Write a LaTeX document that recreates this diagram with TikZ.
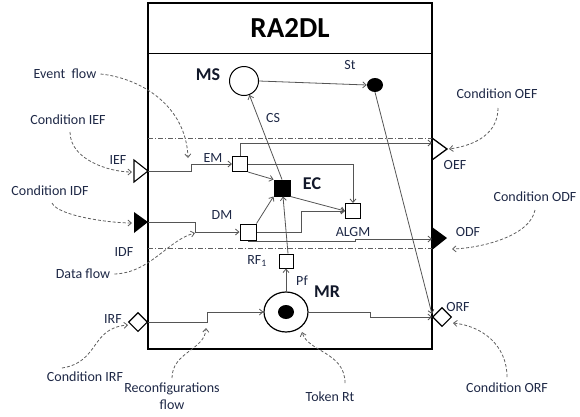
\documentclass[tikz,border=0pt]{standalone}
\usepackage{fontspec}
\setmainfont{Carlito}
\usetikzlibrary{arrows.meta,shapes.geometric}
\definecolor{lblcol}{RGB}{30,40,70}
\definecolor{conncol}{RGB}{85,85,85}
\definecolor{dashcol}{RGB}{95,95,95}
\tikzset{
  conn/.style={draw=conncol, line width=0.8pt, -{Straight Barb[length=3.5pt,width=6pt]}},
  annot/.style={draw=dashcol, line width=0.8pt, dash pattern=on 3pt off 2pt, -{Straight Barb[length=3.5pt,width=6pt]}},
  dashdot/.style={draw=dashcol, line width=0.6pt, dash pattern=on 5pt off 2pt on 1pt off 2pt},
  lbl/.style={text=lblcol, font=\fontsize{14}{16}\selectfont, inner sep=0pt},
  blbl/.style={text=lblcol!60!black, font=\bfseries\fontsize{18}{20}\selectfont, inner sep=0pt},
  sbox/.style={draw=black, fill=white, line width=1pt, minimum size=15pt, inner sep=0pt, rectangle},
}
\begin{document}
\begin{tikzpicture}[x=1pt,y=-1pt]
\useasboundingbox (0,0) rectangle (580,416);
% frame
\draw[line width=1.6pt] (148,3) rectangle (432,349);
\draw[line width=0.9pt] (148,53) -- (432,53);
\node[font=\bfseries\fontsize{29}{32}\selectfont, inner sep=0pt] (title) at (290,28) {RA2DL};
% dash-dot separators
\draw[dashdot] (148,138) -- (432,138);
\draw[dashdot] (148,248) -- (432,248);

% main nodes
\node[circle, draw, line width=1pt, minimum size=29pt, inner sep=0pt] (ms) at (244,81) {};
\node[ellipse, fill=black, minimum width=16pt, minimum height=14pt, inner sep=0pt] (st) at (375,85) {};
\node[sbox] (em) at (240,164) {};
\node[sbox, fill=black, minimum size=16pt] (ec) at (282,188) {};
\node[sbox] (alg) at (353,211) {};
\node[sbox, minimum size=16pt] (dm) at (248,232) {};
\node[sbox, minimum size=14pt] (rf) at (286,261) {};
\node[ellipse, draw, line width=1.2pt, minimum width=44pt, minimum height=40pt, inner sep=0pt] (mr) at (286,312) {};
\node[ellipse, fill=black, minimum width=16pt, minimum height=14pt, inner sep=0pt] (token) at (286,312) {};

% ports
\draw[line width=1.1pt, fill=white] (134,160) -- (148,171) -- (134,182) -- cycle;
\fill (134,212) -- (148,222) -- (134,233) -- cycle;
\draw[line width=1.3pt] (432,138) -- (447,149) -- (432,160);
\fill (432,227) -- (447,238) -- (432,250) -- cycle;
\node[diamond, draw, fill=white, line width=1.1pt, minimum size=19pt, inner sep=0pt] (irf) at (138,322) {};
\node[diamond, draw, fill=white, line width=1.1pt, minimum size=19pt, inner sep=0pt] (orf) at (442,317) {};
\coordinate (ief) at (148,171);
\coordinate (idf) at (148,222);
\coordinate (oef) at (432,143);
\coordinate (odf) at (432,239);

% connectors
\draw[conn] (ief) -- (191,171) -- (191,164) -- (em.west);
\draw[conn] (idf) -- (195,222) -- (195,232) -- (dm.west);
\draw[conn] (em.north) -- (240,143) -- (oef);
\draw[conn] (em.east) -- (alg.north |- em.east) -- (alg.north);
\draw[conn] (em.south east) -- (ec.north west);
\draw[conn] (dm.north east) -- (ec.south west);
\draw[conn] (dm.east) -- (301,232) -- (301,211) -- (alg.west);
\draw[conn] (dm.south) -- (248,241) -- (355,241) -- (355,239) -- (odf);
\draw[conn] (ec.south east) -- (alg.west);
\draw[conn] (ec.north) -- (ms);
\draw[conn] ([xshift=2pt]rf.north) -- ([xshift=1pt]ec.south);
\draw[conn] (mr.north) -- (rf.south);
\draw[conn] (ms.east) -- (st.west);
\draw[conn] (st.south) -- ([yshift=3pt]orf.west);
\draw[conn] (irf.east) -- (207,322) -- (207,312) -- (mr.west);
\draw[conn] (mr.east) -- (370,312) -- (370,317) -- (orf.west);

% labels inside
\node[blbl] (msl) at (208,75) {MS};
\node[lbl] (stl) at (350,65) {St};
\node[lbl] (csl) at (273,118) {CS};
\node[lbl] (eml) at (213,158) {EM};
\node[blbl] (ecl) at (312,184) {EC};
\node[lbl] (dml) at (222,215) {DM};
\node[lbl] (algl) at (353,232) {ALGM};
\node[lbl] (rfl) at (257,261) {RF\textsubscript{1}};
\node[lbl] (pfl) at (302,281) {Pf};
\node[blbl] (mrl) at (327,292) {MR};

% port labels
\node[lbl] (iefl) at (118,160) {IEF};
\node[lbl] (idfl) at (124,252) {IDF};
\node[lbl] (irfl) at (113,319) {IRF};
\node[lbl] (oefl) at (455,165) {OEF};
\node[lbl] (odfl) at (468,232) {ODF};
\node[lbl] (orfl) at (458,307) {ORF};

% annotation labels
\node[lbl] (evf) at (65,74) {Event\ \ flow};
\node[lbl] (cief) at (68,120) {Condition IEF};
\node[lbl] (cidf) at (50,191) {Condition IDF};
\node[lbl] (daf) at (83,274) {Data flow};
\node[lbl] (cirf) at (85,377) {Condition IRF};
\node[lbl, align=center, font=\fontsize{14}{17}\selectfont] (rcf) at (172,396) {Reconfigurations\\flow};
\node[lbl] (tokl) at (330,397) {Token Rt};
\node[lbl] (corf) at (507,388) {Condition ORF};
\node[lbl] (codf) at (535,197) {Condition ODF};
\node[lbl] (coef) at (497,94) {Condition OEF};

% annotation arrows
\coordinate (a1) at (188,158);
\coordinate (a2) at (132,172);
\coordinate (a3) at (132,223);
\coordinate (a4) at (195,233);
\coordinate (a5) at (128,325);
\coordinate (a6) at (206,328);
\coordinate (a7) at (302,332);
\coordinate (a8) at (449,149);
\coordinate (a9) at (452,249);
\coordinate (a10) at (453,323);
\draw[annot] (evf.east) ++(4,0) .. controls (140,78) and (186,105) .. (a1);
\draw[annot] (70,132) .. controls (70,160) and (110,172) .. (a2);
\draw[annot] (52,203) .. controls (58,216) and (110,223) .. (a3);
\draw[annot] (daf.east) ++(4,0) .. controls (150,273) and (168,240) .. (a4);
\draw[annot] (62,368) .. controls (100,362) and (90,328) .. (a5);
\draw[annot] (172,378) .. controls (172,352) and (205,350) .. (a6);
\draw[annot] (345,383) .. controls (345,352) and (308,352) .. (a7);
\draw[annot] (498,108) .. controls (498,132) and (478,145) .. (a8);
\draw[annot] (535,210) .. controls (530,236) and (482,248) .. (a9);
\draw[annot] (507,377) .. controls (507,345) and (482,326) .. (a10);
\end{tikzpicture}
\end{document}
